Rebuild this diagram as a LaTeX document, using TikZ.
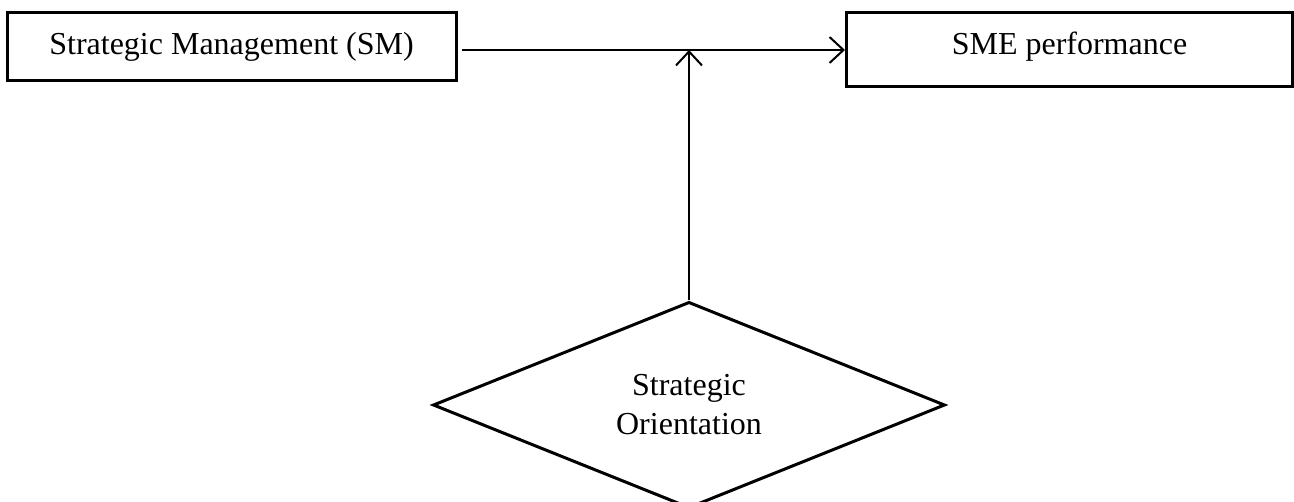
\documentclass[tikz,border=0pt]{standalone}
\usepackage{fontspec}
\setmainfont{Liberation Serif}
\usetikzlibrary{shapes.geometric,arrows.meta}
\begin{document}
\begin{tikzpicture}[x=1pt,y=1pt,
  box/.style={draw,line width=3pt,inner sep=0pt,align=center,anchor=base,
    font=\fontsize{32}{39}\selectfont},
  link/.style={line width=2pt,-{Straight Barb[length=14pt,width=26pt,line width=2pt]}},
  dia/.style={draw,shape=diamond,line width=3pt,inner sep=0pt,
    minimum width=512pt,minimum height=202pt,align=center,
    font=\fontsize{32}{39}\selectfont}]
\useasboundingbox (0,0) rectangle (1294,-502);
\node[box,minimum width=449pt,text height=42pt,text depth=26pt] (sm) at (231.5,-55) {Strategic Management (SM)};
\node[box,minimum width=446pt,text height=42pt,text depth=32pt] (perf) at (1069.5,-55) {SME performance};
\node[dia] (so) at (689,-405) {Strategic\\Orientation};
\draw[link] ([xshift=4pt]sm.east |- perf.west) -- (perf.west);
\draw[link] (so.north) -- (so.north |- perf.west);
\end{tikzpicture}
\end{document}
